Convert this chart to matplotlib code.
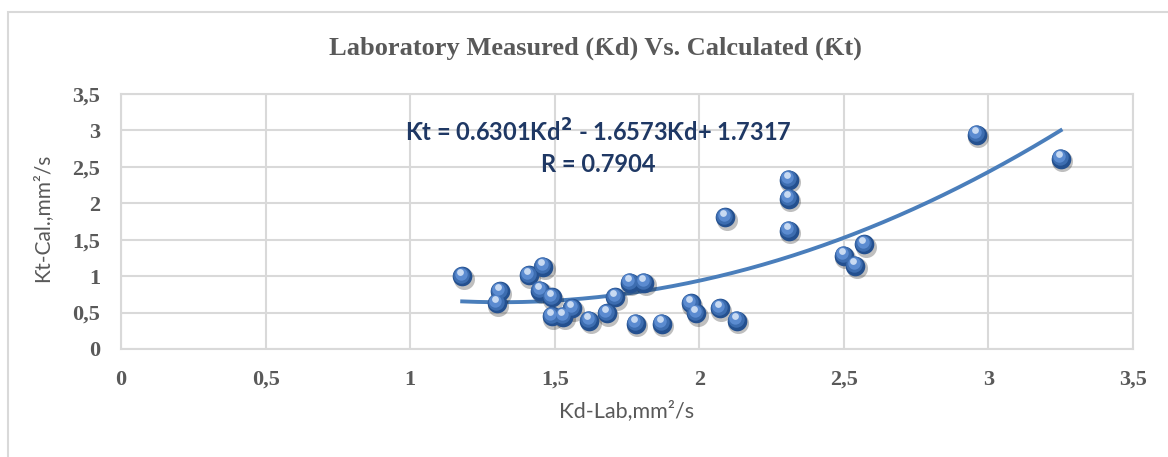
import matplotlib
matplotlib.use("Agg")
import matplotlib.pyplot as plt
import numpy as np
from matplotlib.transforms import offset_copy
from matplotlib.patches import Rectangle
from matplotlib.ticker import FuncFormatter, MultipleLocator

# data
kd_lab = [1.18, 1.31, 1.30, 1.41, 1.46, 1.45, 1.49, 1.49, 1.53, 1.56,
          1.62, 1.68, 1.71, 1.76, 1.81, 1.78, 1.87, 1.97, 1.99, 2.07,
          2.13, 2.09, 2.31, 2.31, 2.31, 2.50, 2.54, 2.57, 2.96, 3.25]
kt_cal = [1.00, 0.79, 0.63, 1.01, 1.13, 0.80, 0.71, 0.45, 0.44, 0.56,
          0.39, 0.49, 0.71, 0.91, 0.91, 0.35, 0.35, 0.63, 0.49, 0.56,
          0.39, 1.81, 2.32, 2.06, 1.62, 1.28, 1.14, 1.44, 2.94, 2.61]
trend_coef = [0.6301, -1.6573, 1.7317]
eq_text = "Ƙt = 0.6301Ƙd$^{\\mathbf{2}}$ - 1.6573Ƙd+ 1.7317"
r_text = "R = 0.7904"
title = "Laboratory Measured (Ƙd) Vs. Calculated (Ƙt)"
xlabel = "Ƙd-Lab,mm²/s"
ylabel = "Ƙt-Cal.,mm²/s"

gray = "#595959"
serif = ["Liberation Serif", "DejaVu Serif"]
sans = ["Lato", "DejaVu Sans"]

fig = plt.figure(figsize=(11.68, 4.57), dpi=100)
ax = fig.add_axes([121 / 1168, 1 - 349 / 457, (1133 - 121) / 1168, (349 - 94) / 457])

# outer chart frame
fig.patches.append(Rectangle((8 / 1168, -0.5), 2, 1.5 - 12 / 457, transform=fig.transFigure,
                             fill=False, edgecolor="#D9D9D9", lw=1.5))

ax.set_xlim(0, 3.5)
ax.set_ylim(0, 3.5)
ax.xaxis.set_major_locator(MultipleLocator(0.5))
ax.yaxis.set_major_locator(MultipleLocator(0.5))
fmt = FuncFormatter(lambda v, p: ("%g" % v).replace(".", ","))
ax.xaxis.set_major_formatter(fmt)
ax.yaxis.set_major_formatter(fmt)
ax.grid(True, color="#D9D9D9", lw=1.5)
ax.set_axisbelow(True)
for s in ax.spines.values():
    s.set_color("#D9D9D9")
    s.set_linewidth(1.5)
ax.tick_params(length=0, labelcolor=gray, labelsize=16)
ax.tick_params(axis="x", pad=15)
ax.tick_params(axis="y", pad=15)
for lab in ax.get_xticklabels() + ax.get_yticklabels():
    lab.set_fontfamily(serif)
    lab.set_fontweight("bold")

# trendline
xs = np.linspace(min(kd_lab), max(kd_lab), 200)
ax.plot(xs, np.polyval(trend_coef, xs), color="#4A7EBB", lw=2.8, zorder=2)

# spheres: shadow, body, highlights
sz = 200
ax.scatter(kd_lab, kt_cal, s=sz * 1.15, color="#000000", alpha=0.25, lw=0,
           transform=offset_copy(ax.transData, fig, x=1.5, y=-2.5, units="dots"), zorder=3)
ax.scatter(kd_lab, kt_cal, s=sz, color="#24508F", lw=0, zorder=4)
ax.scatter(kd_lab, kt_cal, s=sz * 0.7, color="#3D6DB0", lw=0,
           transform=offset_copy(ax.transData, fig, x=-1, y=1.5, units="dots"), zorder=5)
ax.scatter(kd_lab, kt_cal, s=sz * 0.4, color="#5B8BD0", lw=0,
           transform=offset_copy(ax.transData, fig, x=-1.5, y=2.5, units="dots"), zorder=6)
ax.scatter(kd_lab, kt_cal, s=sz * 0.12, color="#C8DAF2", lw=0,
           transform=offset_copy(ax.transData, fig, x=-2, y=4.5, units="dots"), zorder=7)

ax.text(1.65, 2.98, eq_text, ha="center", va="center", fontsize=17, fontweight="bold",
        color="#1F3864", family=sans, zorder=8)
ax.text(1.65, 2.53, r_text, ha="center", va="center", fontsize=17, fontweight="bold",
        color="#1F3864", family=sans, zorder=8)

fig.text(595 / 1168, 1 - 48 / 457, title, ha="center", va="center", fontsize=19,
         fontweight="bold", color=gray, family=serif)
fig.text(627 / 1168, 1 - 411 / 457, xlabel, ha="center", va="center", fontsize=15.5,
         color=gray, family=sans)
fig.text(42 / 1168, 1 - 218 / 457, ylabel, ha="center", va="center", fontsize=15,
         color=gray, family=sans, rotation=90)

fig.savefig("out.png", dpi=100)
